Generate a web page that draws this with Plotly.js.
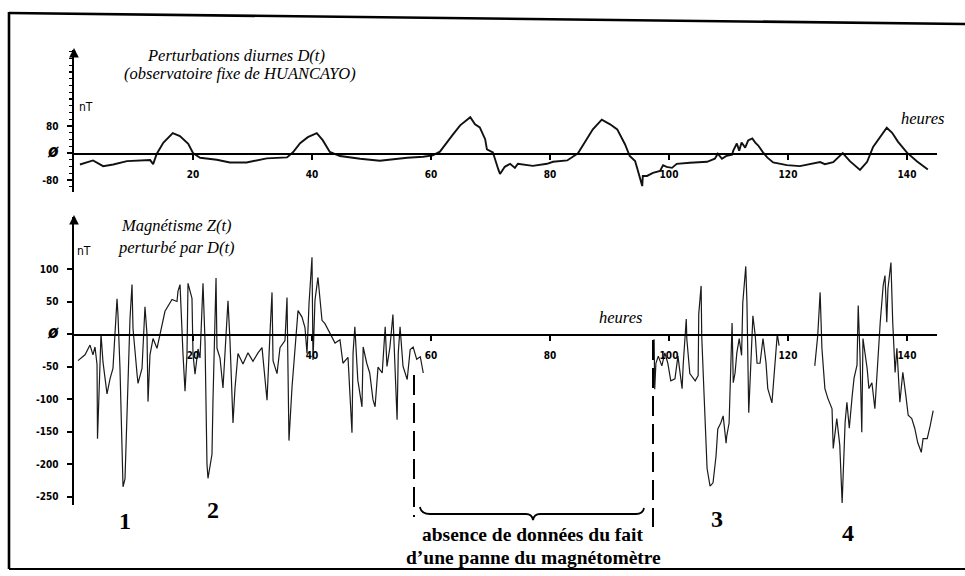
<!DOCTYPE html>
<html><head><meta charset="utf-8">
<script src="https://cdn.plot.ly/plotly-3.0.1.min.js"></script>
<style>html,body{margin:0;padding:0;background:#fff;overflow:hidden}</style>
</head><body><div id="chart" style="width:965px;height:576px"></div>
<script>
// ---- Data: diurnal perturbation D(t) (Huancayo) ----
const hoursD = [1.0,3.2,4.9,6.6,8.9,12.8,13.3,13.9,15.0,16.6,
  17.8,19.2,20.0,21.2,24.0,26.2,29.0,32.4,35.8,36.8,
  38.0,39.3,40.8,41.8,43.0,44.7,48.1,51.4,56.0,58.7,
  60.3,61.5,63.7,64.9,66.6,67.4,68.2,69.1,69.4,70.4,
  71.3,71.6,72.4,73.3,74.1,74.6,77.1,79.5,80.5,82.9,
  84.7,86.2,87.2,88.7,90.1,91.3,92.6,93.4,94.3,94.8,
  95.5,95.6,96.3,97.3,98.5,99.0,99.6,100.5,101.3,103.5,
  106.4,107.7,108.2,108.9,109.7,110.6,110.8,111.4,111.8,112.2,
  112.8,113.3,114.0,114.5,115.0,115.8,116.5,117.5,119.8,122.0,
  123.7,125.4,126.2,127.6,129.2,130.4,132.1,133.3,134.3,135.5,
  136.6,137.5,138.5,140.0,141.7,143.5];
const nTD = [-34,-22,-39,-34,-24,-21,-33,-3,30,59,
  50,27,0,-14,-20,-28,-28,-16,-13,2,
  29,47,59,38,3,-9,-17,-23,-14,-11,
  -7,4,55,82,106,85,76,41,11,2,
  -48,-62,-41,-32,-44,-32,-38,-32,-26,-22,
  -1,43,70,99,85,70,26,-9,-24,-54,
  -98,-68,-68,-59,-53,-36,-41,-44,-32,-29,
  -26,-17,-2,-17,-8,-5,7,28,7,31,
  16,37,43,31,22,2,-13,-28,-36,-39,
  -33,-27,-33,-27,0,-24,-50,-26,18,48,
  75,60,33,1,-25,-49];

// ---- Data: magnetism Z(t) perturbed by D(t); null = magnetometer failure ----
const hoursZ = [0.67,1.85,2.69,3.19,3.53,3.87,3.95,4.2,4.54,4.87,5.55,6.05,6.55,7.23,7.39,7.73,8.24,8.57,8.91,9.08,
  9.41,9.75,9.92,10.6,10.76,11.43,11.93,12.27,12.44,12.77,13.28,13.95,14.45,15.29,16.47,17.31,17.48,17.82,18.32,18.66,
  18.99,19.16,19.83,20.0,20.34,20.84,21.18,21.68,22.02,22.35,22.52,23.19,23.36,23.87,24.03,24.54,25.04,25.71,25.88,26.22,
  26.72,27.06,27.56,28.4,29.24,30.08,30.92,31.6,32.1,32.44,32.94,33.28,33.45,34.12,34.62,35.46,35.8,36.13,36.64,37.14,
  37.65,38.32,38.82,39.16,39.5,40.0,40.17,40.5,41.0,41.68,42.18,43.03,43.87,44.7,45.2,46.05,46.72,46.9,47.2,47.7,
  48.4,48.6,49.2,49.7,50.25,50.6,51.1,51.8,52.3,52.6,53.1,53.6,54.3,54.5,54.8,55.3,56.0,56.5,57.0,57.6,58.2,58.7,
  null,
  97.5,97.6,97.8,98.2,98.8,99.3,99.8,100.3,101.0,101.5,102.2,102.4,102.9,103.0,103.5,104.4,104.9,105.0,105.4,105.5,
  105.9,106.4,106.9,107.4,107.9,108.2,108.7,109.1,109.6,109.7,110.1,110.6,110.8,111.1,111.4,111.8,112.2,112.4,112.9,113.1,
  113.4,113.8,114.1,114.5,114.8,115.3,115.8,116.3,116.6,117.3,117.8,118.2,118.5,
  null,
  124.5,125.0,125.4,125.7,126.2,126.7,127.4,127.6,128.2,128.7,129.1,129.6,129.9,130.3,130.8,131.1,131.6,131.8,132.1,132.4,
  132.6,133.3,133.6,134.1,134.6,135.0,135.5,136.0,136.3,136.6,136.8,137.3,137.6,138.0,138.3,138.8,139.3,139.8,140.2,140.8,
  141.3,141.8,142.4,142.7,143.4,143.9,144.4];
const nTZ = [-41,-32,-17,-32,-20,-47,-161,-101,0,-43,-92,-69,-53,54,30,-53,-235,-223,-124,-63,
  23,76,8,-62,-76,-53,42,-1,-104,-32,-7,-22,0,35,53,50,66,76,-31,-88,
  -31,78,55,-31,-62,-23,-37,78,-11,-200,-222,-185,-102,86,-22,-37,-83,25,51,-11,
  -137,-83,-30,-46,-29,-42,-29,-21,-76,-102,1,64,-41,-61,-21,-10,56,-164,-82,-21,
  36,26,10,-30,47,118,-40,52,87,21,16,1,-14,-9,-45,-36,-152,-29,11,-71,
  -112,-20,-45,-60,-101,-112,-51,-60,11,-50,-20,30,-132,-29,11,-50,-70,-24,-20,-39,-35,-60,
  null,
  -8,-85,-45,-34,-49,-29,-45,-72,-69,-34,-84,-45,23,-8,-61,-72,-64,31,74,-3,
  -95,-207,-234,-229,-188,-146,-137,-126,-168,-157,-137,17,-75,-60,-29,-7,-33,48,104,48,
  -121,-33,28,-3,-45,-45,-7,-44,-84,-106,-53,0,-18,
  null,
  -49,-2,64,-22,-84,-99,-115,-176,-130,-171,-260,-136,-105,-145,-94,-68,-48,44,-33,-151,
  -7,-53,-84,-75,-115,-49,18,75,90,18,70,110,18,-59,-22,-105,-59,-94,-125,-130,
  -145,-167,-182,-161,-161,-141,-118];

// ---- Tick labels ----
const xTickVals = [20,40,60,80,100,120,140];
const xTickText = ['20','40','60','80','100','120','140'];
const ZERO = '<span style="font-size:17px;font-style:italic">ø</span>';
const dTickVals = [-80,0,80];
const dTickText = ['-80',ZERO,'80'];
const zTickVals = [100,50,0,-50,-100,-150,-200,-250];
const zTickText = ['100','50',ZERO,'-50','-100','-150','-200','-250'];

// ---- Geometry (pixels of the 965x576 page) ----
const W=965,H=576;
const px=x=>x/W, py=y=>1-y/H;
const X0=74, X1=937, PXH=5.95;
const D={zero:153, k:0.3375, top:50, bot:192};
const Z={zero:334, k:0.65, top:217, bot:505};
const xr=[0,(X1-X0)/PXH];

const tickFont={family:'Liberation Sans Narrow, DejaVu Sans Condensed, Arial', size:10, color:'#000', weight:'bold'};
const xaxisBase={domain:[px(X0),px(X1)], range:xr, anchor:'free', showline:true, linecolor:'#000', linewidth:1.6,
  showgrid:false, zeroline:false, tickmode:'array', tickvals:xTickVals, ticktext:xTickText,
  ticks:'outside', ticklen:5, tickwidth:1.6, tickcolor:'#000', tickfont:tickFont, ticklabelstandoff:6, fixedrange:true};
const yaxisBase={showline:true, linecolor:'#000', linewidth:2.4, showgrid:false, zeroline:false, tickmode:'array',
  ticks:'outside', ticklen:5, tickwidth:2, tickcolor:'#000', tickfont:tickFont, ticklabelstandoff:6, fixedrange:true};

const traces=[
  {x:hoursD, y:nTD, xaxis:'x', yaxis:'y', mode:'lines', line:{color:'#111', width:1.9, shape:'linear'}, hoverinfo:'skip'},
  {x:hoursZ, y:nTZ, xaxis:'x2', yaxis:'y2', mode:'lines', line:{color:'#1a1a1a', width:1.2}, connectgaps:false, hoverinfo:'skip'}
];

const serifI={family:'Liberation Serif, Times New Roman, serif', size:16.5, color:'#000', style:'italic'};
const ann=(x,y,text,font,extra)=>Object.assign({xref:'paper',yref:'paper',x:px(x),y:py(y),text:text,showarrow:false,
  xanchor:'center',yanchor:'middle',font:font,borderpad:0},extra||{});
const bigNum={family:'Liberation Serif, Times New Roman, serif', size:24, color:'#000', weight:'bold'};
const boldSerif={family:'Liberation Serif, Times New Roman, serif', size:19.5, color:'#000', weight:'bold'};
const sansSmall={family:'Liberation Sans Narrow, DejaVu Sans Condensed, Arial', size:12, color:'#000'};

const annotations=[
  ann(236,55,'Perturbations diurnes D(t)',serifI),
  ann(240,73,'(observatoire fixe de HUANCAYO)',serifI),
  ann(86,107,'nT',sansSmall),
  ann(922,118,'heures',serifI),
  ann(176,225,'Magnétisme Z(t)',serifI),
  ann(176,247,'perturbé par D(t)',serifI),
  ann(84,251,'nT',sansSmall),
  ann(620,317,'heures',serifI),
  ann(125,521,'1',bigNum), ann(213,510,'2',bigNum), ann(717,519,'3',bigNum), ann(848,533,'4',bigNum),
  ann(533,534,'absence de données du fait',boldSerif),
  ann(533,557,'d\u2019une panne du magnétomètre',boldSerif),
  // axis arrowheads
  {xref:'paper',yref:'paper',x:px(X0),y:py(D.top-2),ax:0,ay:10,text:'',showarrow:true,arrowhead:2,arrowsize:0.8,arrowwidth:2.4,arrowcolor:'#000'},
  {xref:'paper',yref:'paper',x:px(X0),y:py(Z.top-2),ax:0,ay:10,text:'',showarrow:true,arrowhead:2,arrowsize:0.8,arrowwidth:2.4,arrowcolor:'#000'}
];

const P=(x,y)=>px(x).toFixed(5)+','+py(y).toFixed(5);
const shapes=[
  // frame of the scanned figure
  {type:'line',xref:'paper',yref:'paper',x0:px(9),y0:py(13),x1:px(965),y1:py(24),line:{color:'#000',width:2.6}},
  {type:'line',xref:'paper',yref:'paper',x0:px(9),y0:py(12),x1:px(9),y1:py(569),line:{color:'#000',width:2.6}},
  {type:'line',xref:'paper',yref:'paper',x0:px(9),y0:py(569),x1:px(965),y1:py(569),line:{color:'#000',width:2}},
  // dashed bounds of missing data
  {type:'line',xref:'paper',yref:'paper',x0:px(414),y0:py(375),x1:px(414),y1:py(517),line:{color:'#000',width:2,dash:'20px,8px'}},
  {type:'line',xref:'paper',yref:'paper',x0:px(653),y0:py(340),x1:px(653),y1:py(527),line:{color:'#000',width:2,dash:'20px,8px'}},
  // brace
  {type:'path',xref:'paper',yref:'paper',line:{color:'#000',width:1.8},
   path:'M'+P(420,507)+' Q'+P(421,514)+' '+P(430,514)+' L'+P(526,514)+' Q'+P(532,514)+' '+P(533,520)+
        ' Q'+P(534,514)+' '+P(540,514)+' L'+P(636,514)+' Q'+P(643,514)+' '+P(644,508)}
];

const layout={width:W,height:H,margin:{l:0,r:0,t:0,b:0},paper_bgcolor:'#fff',plot_bgcolor:'rgba(0,0,0,0)',showlegend:false,
  xaxis:Object.assign({},xaxisBase,{position:py(D.zero)}),
  xaxis2:Object.assign({},xaxisBase,{position:py(Z.zero)}),
  yaxis:Object.assign({},yaxisBase,{domain:[py(D.bot),py(D.top)], range:[-(D.bot-D.zero)/D.k,(D.zero-D.top)/D.k], anchor:'x',
     tickvals:dTickVals, ticktext:dTickText, minor:{tickmode:'linear',dtick:20,ticks:'outside',ticklen:3,tickwidth:1.2,tickcolor:'#000'}}),
  yaxis2:Object.assign({},yaxisBase,{domain:[py(Z.bot),py(Z.top)], range:[-(Z.bot-Z.zero)/Z.k,(Z.zero-Z.top)/Z.k], anchor:'x2',
     tickvals:zTickVals, ticktext:zTickText}),
  annotations:annotations, shapes:shapes};

Plotly.newPlot('chart',traces,layout,{staticPlot:true,displayModeBar:false});
</script></body></html>
